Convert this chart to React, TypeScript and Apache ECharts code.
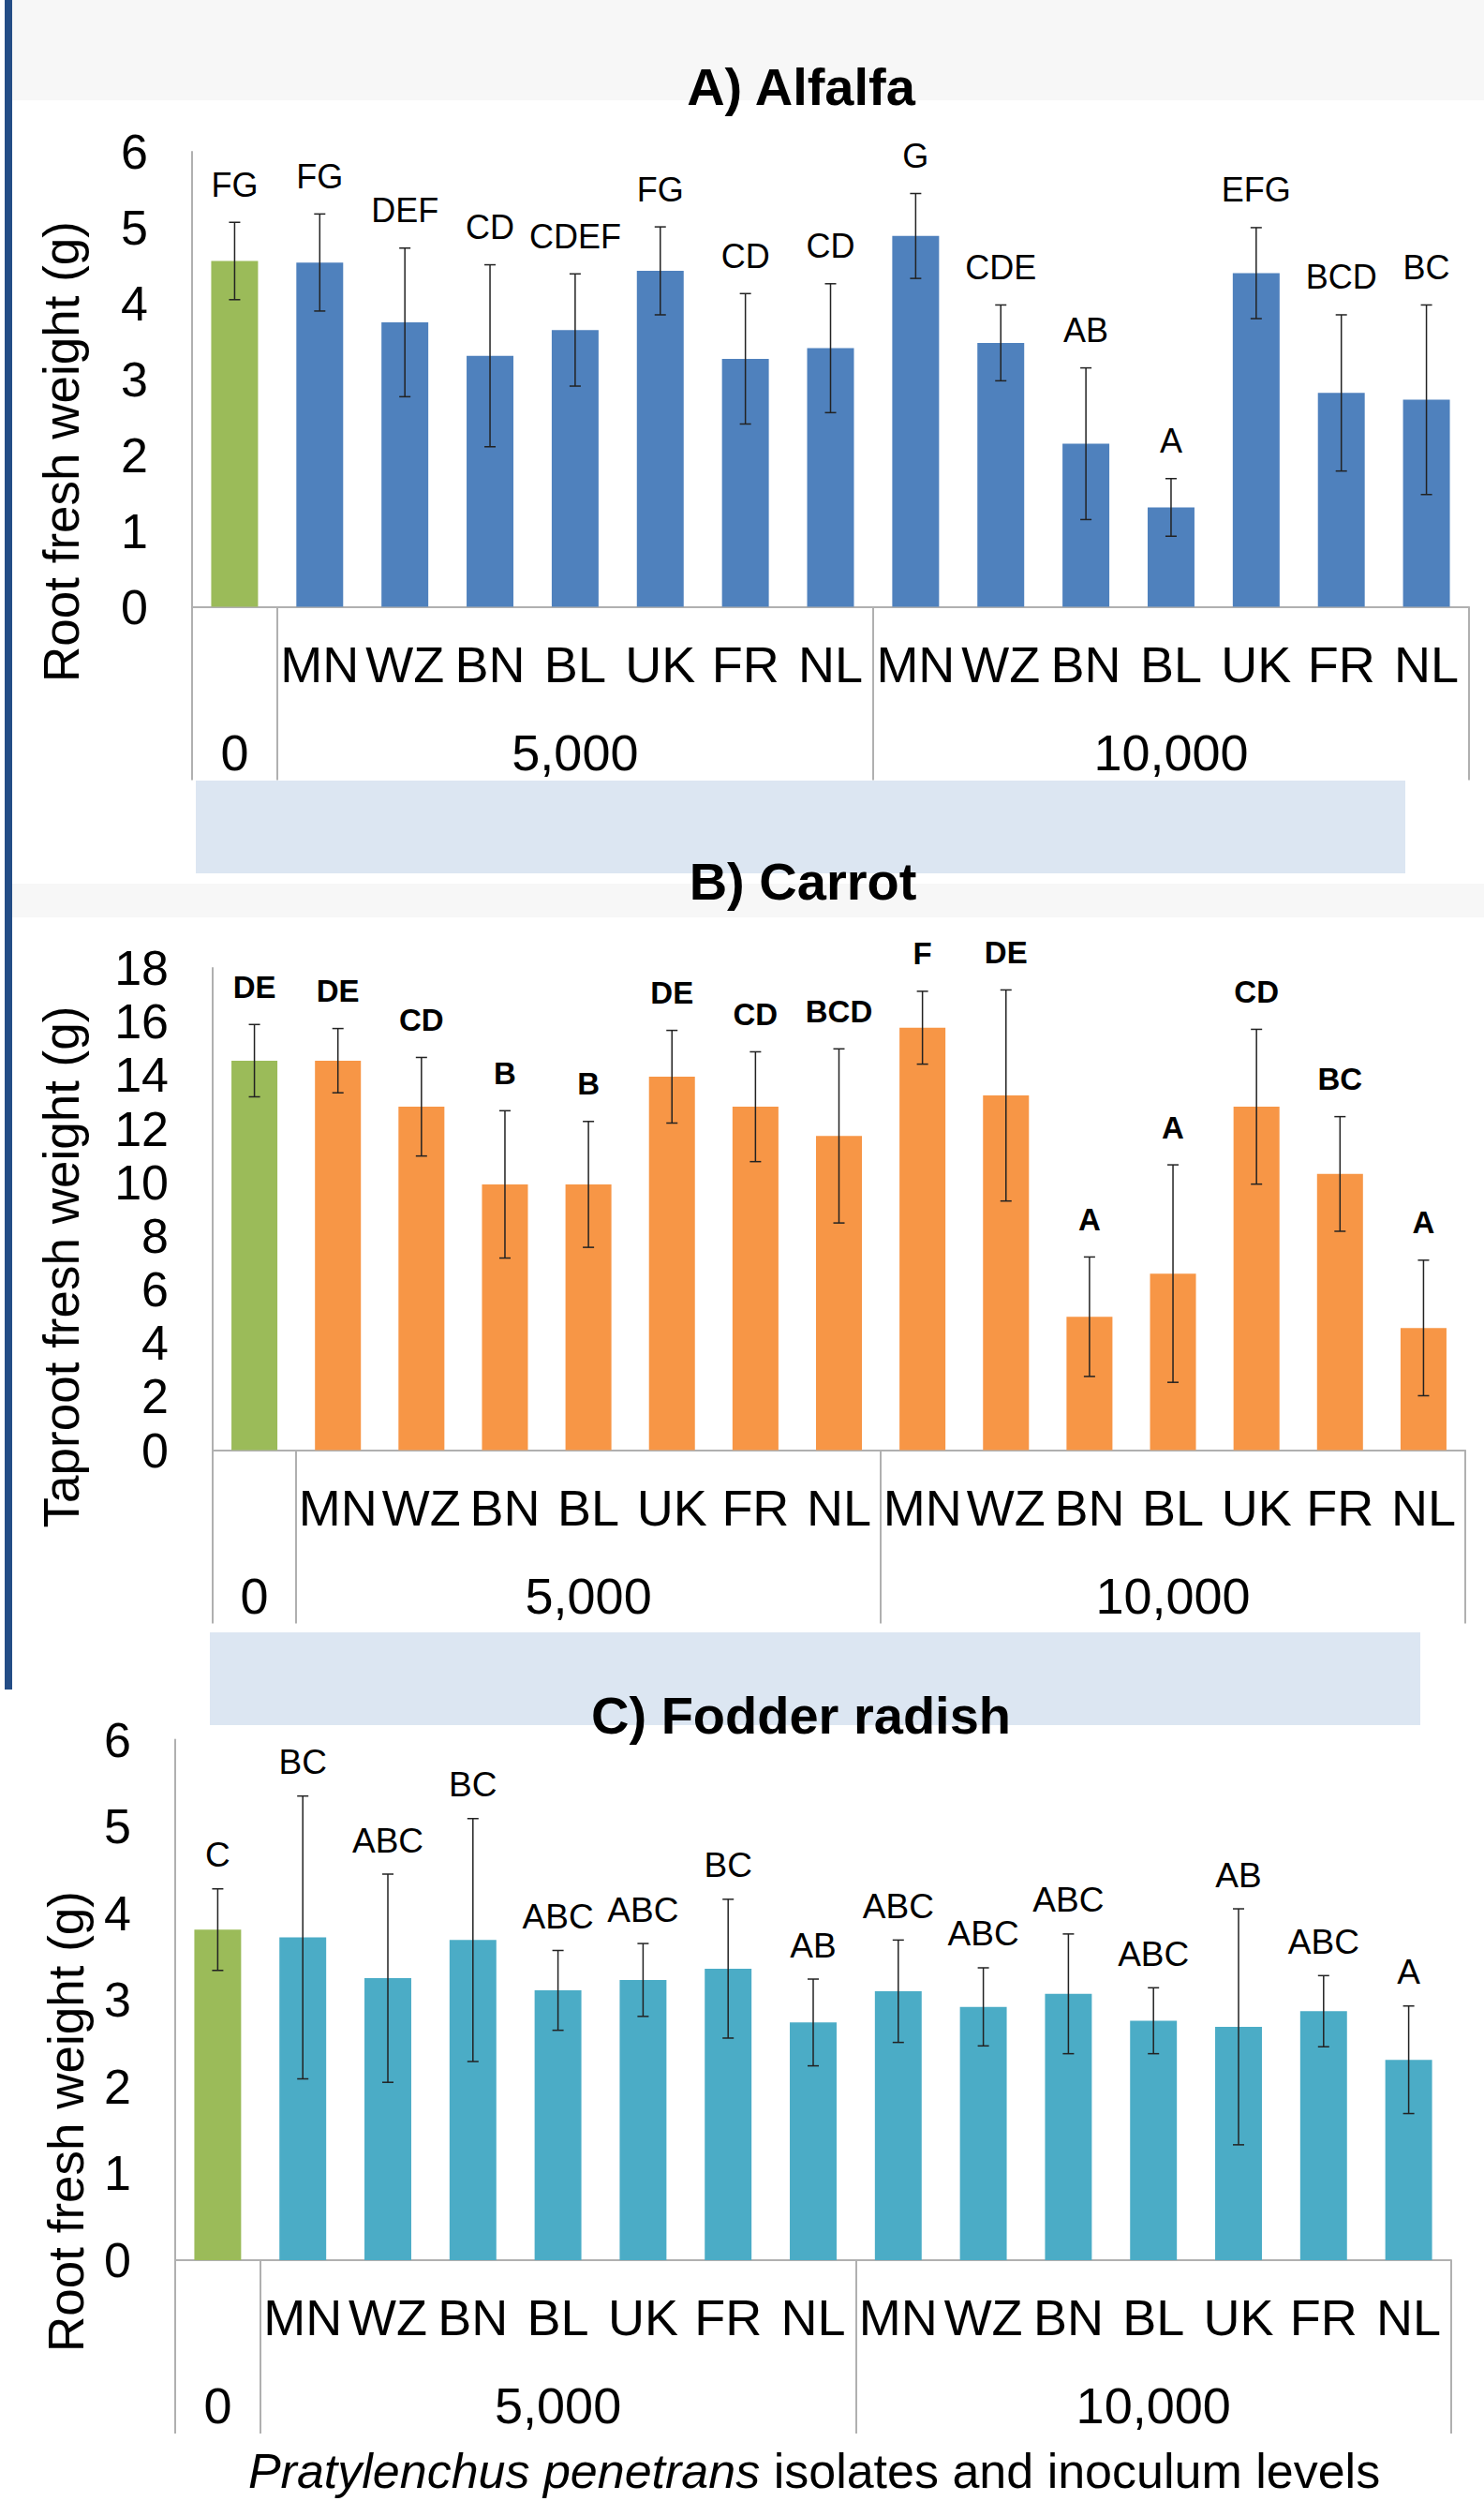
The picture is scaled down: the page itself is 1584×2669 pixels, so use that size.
import React, { useEffect, useRef } from 'react';
import * as echarts from 'echarts';

// ---------- data ----------
const isolates = ['MN', 'WZ', 'BN', 'BL', 'UK', 'FR', 'NL'];
const levels = ['0', '5,000', '10,000'];

const alfalfaMean = [4.56, 4.54, 3.75, 3.31, 3.65, 4.43, 3.27, 3.41, 4.89, 3.48, 2.15, 1.31, 4.40, 2.82, 2.73];
const alfalfaErr = [0.51, 0.64, 0.98, 1.20, 0.74, 0.58, 0.86, 0.85, 0.56, 0.50, 1.00, 0.38, 0.60, 1.03, 1.25];
const alfalfaLetters = ['FG', 'FG', 'DEF', 'CD', 'CDEF', 'FG', 'CD', 'CD', 'G', 'CDE', 'AB', 'A', 'EFG', 'BCD', 'BC'];

const carrotMean = [14.54, 14.54, 12.82, 9.92, 9.92, 13.94, 12.82, 11.73, 15.77, 13.24, 4.98, 6.59, 12.82, 10.31, 4.56];
const carrotErr = [1.35, 1.20, 1.84, 2.75, 2.35, 1.73, 2.05, 3.25, 1.36, 3.94, 2.23, 4.06, 2.89, 2.14, 2.53];
const carrotLetters = ['DE', 'DE', 'CD', 'B', 'B', 'DE', 'CD', 'BCD', 'F', 'DE', 'A', 'A', 'CD', 'BC', 'A'];

const radishMean = [3.81, 3.72, 3.25, 3.69, 3.11, 3.23, 3.36, 2.74, 3.10, 2.92, 3.07, 2.76, 2.69, 2.87, 2.31];
const radishErr = [0.47, 1.63, 1.20, 1.40, 0.46, 0.42, 0.80, 0.50, 0.59, 0.45, 0.69, 0.38, 1.36, 0.41, 0.62];
const radishLetters = ['C', 'BC', 'ABC', 'BC', 'ABC', 'ABC', 'BC', 'AB', 'ABC', 'ABC', 'ABC', 'ABC', 'AB', 'ABC', 'A'];

const alfalfaTicks = { max: 6, step: 1 };
const carrotTicks = { max: 18, step: 2 };
const radishTicks = { max: 6, step: 1 };

// ---------- derived categories ----------
const categories: string[] = [levels[0]];
levels.slice(1).forEach((lv) => isolates.forEach((iso) => categories.push(iso + '|' + lv)));

const groups: { label: string; start: number; count: number }[] = [];
groups.push({ label: levels[0], start: 0, count: 1 });
levels.slice(1).forEach((lv, k) => groups.push({ label: lv, start: 1 + k * isolates.length, count: isolates.length }));
const groupStarts = groups.map((g) => g.start);

// ---------- styles ----------
const FONT = '"Liberation Sans", Arial, Helvetica, sans-serif';
const AXIS = '#b0b0b0';
const CTRL = '#9bbb59';

const panels = [
  {
    title: 'A) Alfalfa', yName: 'Root fresh weight (g)', mean: alfalfaMean, err: alfalfaErr, letters: alfalfaLetters,
    color: '#4f81bd', ticks: alfalfaTicks, bold: false, letterSize: 36, gap: 40,
    grid: { left: 205, top: 162, width: 1363, height: 485.5 }, nameX: 65, nameY: 482, titleX: 855, titleY: 92,
  },
  {
    title: 'B) Carrot', yName: 'Taproot fresh weight (g)', mean: carrotMean, err: carrotErr, letters: carrotLetters,
    color: '#f79646', ticks: carrotTicks, bold: true, letterSize: 33, gap: 40,
    grid: { left: 227, top: 1033, width: 1337, height: 514.5 }, nameX: 65, nameY: 1352, titleX: 857, titleY: 940,
  },
  {
    title: 'C) Fodder radish', yName: 'Root fresh weight (g)', mean: radishMean, err: radishErr, letters: radishLetters,
    color: '#4bacc6', ticks: radishTicks, bold: false, letterSize: 37, gap: 36,
    grid: { left: 187, top: 1856.5, width: 1362, height: 555.5 }, nameX: 70, nameY: 2264, titleX: 855, titleY: 1830,
  },
];

function buildOption() {
  const grid: any[] = [];
  const xAxis: any[] = [];
  const yAxis: any[] = [];
  const series: any[] = [];
  const graphic: any[] = [
    { type: 'rect', z: -10, shape: { x: 5, y: 0, width: 8, height: 1803 }, style: { fill: '#244d86' } },
    { type: 'rect', z: -10, shape: { x: 13, y: 0, width: 1571, height: 107 }, style: { fill: '#f7f7f7' } },
    { type: 'rect', z: -10, shape: { x: 209, y: 833, width: 1291, height: 99 }, style: { fill: '#dce6f2' } },
    { type: 'rect', z: -10, shape: { x: 13, y: 943, width: 1571, height: 36 }, style: { fill: '#f7f7f7' } },
    { type: 'rect', z: -10, shape: { x: 224, y: 1742, width: 1292, height: 99 }, style: { fill: '#dce6f2' } },
  ];

  panels.forEach((p, k) => {
    grid.push({ ...p.grid, containLabel: false });
    xAxis.push({
      gridIndex: k, type: 'category', data: categories, boundaryGap: true, position: 'bottom',
      axisLine: { show: true, lineStyle: { color: AXIS, width: 2 } },
      axisTick: {
        show: true, alignWithLabel: false, length: 185,
        interval: (i: number) => groupStarts.indexOf(i) >= 0,
        lineStyle: { color: AXIS, width: 2 },
      },
      axisLabel: {
        interval: 0, margin: 34, fontSize: 54, color: '#000', fontFamily: FONT,
        formatter: (v: string) => (v.indexOf('|') >= 0 ? v.split('|')[0] : ''),
      },
      splitLine: { show: false },
    });
    xAxis.push({
      gridIndex: k, type: 'category', data: categories, boundaryGap: true, position: 'bottom',
      axisLine: { show: false }, axisTick: { show: false }, splitLine: { show: false },
      axisLabel: {
        interval: 0, margin: 128, fontSize: 54, color: '#000', fontFamily: FONT,
        formatter: (_v: string, i: number) => {
          const g = groups.find((gg) => gg.start + Math.floor(gg.count / 2) === i);
          return g ? g.label : '';
        },
      },
    });
    yAxis.push({
      gridIndex: k, type: 'value', min: 0, max: p.ticks.max, interval: p.ticks.step,
      axisLine: { show: true, lineStyle: { color: AXIS, width: 2 } },
      axisTick: { show: false }, splitLine: { show: false },
      axisLabel: { fontSize: 52, color: '#000', margin: 47, fontFamily: FONT },
    });
    series.push({
      type: 'bar', xAxisIndex: 2 * k, yAxisIndex: k, barWidth: '55%',
      data: p.mean.map((v, i) => ({ value: v, itemStyle: { color: i === 0 ? CTRL : p.color } })),
    });
    const letters = p.letters;
    series.push({
      type: 'custom', xAxisIndex: 2 * k, yAxisIndex: k, z: 5,
      data: p.mean.map((m, i) => [i, m, p.err[i]]),
      encode: { x: 0, y: 1 },
      renderItem: (params: any, api: any) => {
        const i = api.value(0);
        const m = api.value(1);
        const e = api.value(2);
        const top = api.coord([i, m + e]);
        const bot = api.coord([i, m - e]);
        const cap = 6;
        const ls = { stroke: '#222', lineWidth: 1.5 };
        return {
          type: 'group',
          children: [
            { type: 'line', shape: { x1: top[0], y1: top[1], x2: bot[0], y2: bot[1] }, style: ls },
            { type: 'line', shape: { x1: top[0] - cap, y1: top[1], x2: top[0] + cap, y2: top[1] }, style: ls },
            { type: 'line', shape: { x1: bot[0] - cap, y1: bot[1], x2: bot[0] + cap, y2: bot[1] }, style: ls },
            {
              type: 'text', x: top[0], y: top[1] - p.gap,
              style: {
                text: letters[params.dataIndex], fill: '#000', fontSize: p.letterSize,
                fontWeight: p.bold ? 'bold' : 'normal', fontFamily: FONT,
                align: 'center', verticalAlign: 'middle', textAlign: 'center', textVerticalAlign: 'middle',
              },
            },
          ],
        };
      },
    });
    graphic.push({
      type: 'text', x: p.titleX, y: p.titleY, z: 10,
      style: {
        text: p.title, fill: '#000', fontSize: 56, fontWeight: 'bold', fontFamily: FONT,
        align: 'center', verticalAlign: 'middle', textAlign: 'center', textVerticalAlign: 'middle',
      },
    });
    graphic.push({
      type: 'text', x: p.nameX, y: p.nameY, rotation: Math.PI / 2, z: 10,
      style: {
        text: p.yName, fill: '#000', fontSize: 53, fontFamily: FONT,
        align: 'center', verticalAlign: 'middle', textAlign: 'center', textVerticalAlign: 'middle',
      },
    });
  });

  graphic.push({
    type: 'text', x: 869, y: 2637, z: 10,
    style: {
      text: '{i|Pratylenchus penetrans} isolates and inoculum levels',
      rich: { i: { fontStyle: 'italic', fontSize: 52, fontFamily: FONT, fill: '#000' } },
      fill: '#000', fontSize: 52, fontFamily: FONT,
      align: 'center', verticalAlign: 'middle', textAlign: 'center', textVerticalAlign: 'middle',
    },
  });

  return { animation: false, backgroundColor: '#ffffff', grid, xAxis, yAxis, series, graphic };
}

export default function App() {
  const ref = useRef<HTMLDivElement>(null);
  useEffect(() => {
    if (!ref.current) return;
    const chart = echarts.init(ref.current, null, { renderer: 'svg' });
    chart.setOption(buildOption() as any);
    return () => chart.dispose();
  }, []);
  return (
    <div
      ref={ref}
      style={{ position: 'absolute', left: 0, top: 0, width: 1584, height: 2669, background: '#fff' }}
    />
  );
}
